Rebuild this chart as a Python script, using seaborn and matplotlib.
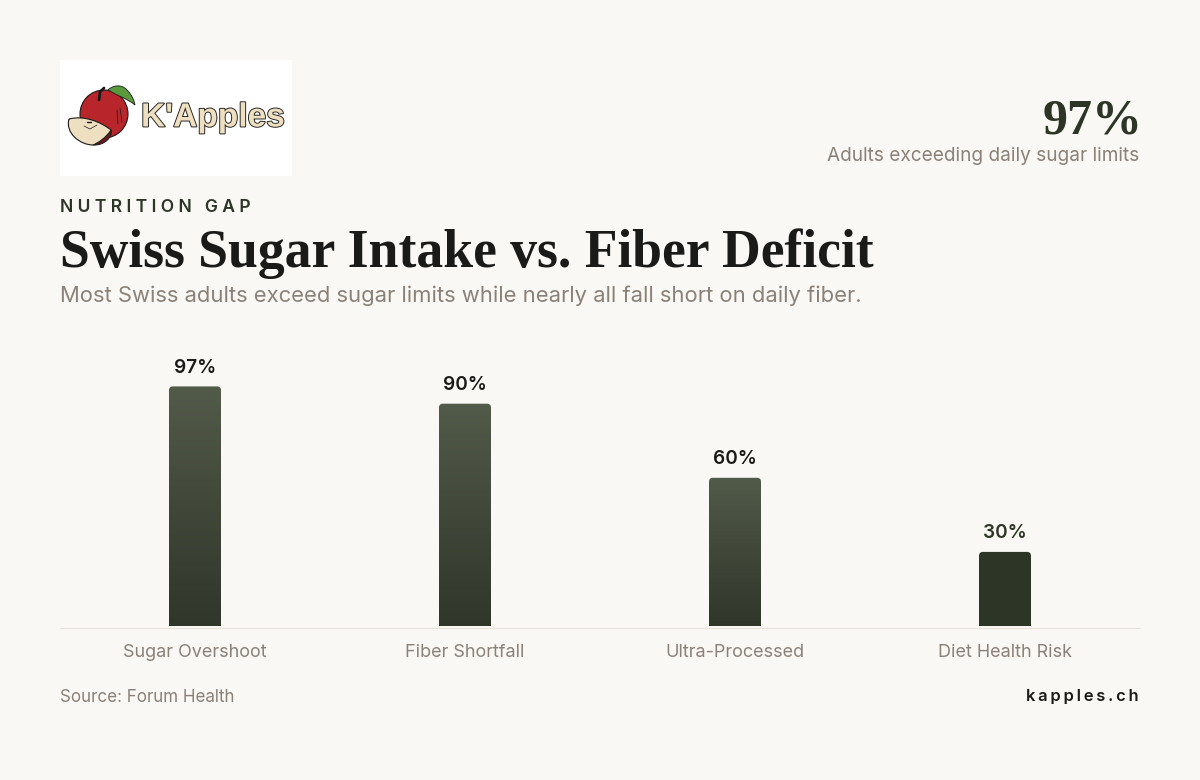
import matplotlib
matplotlib.use('Agg')
import matplotlib.pyplot as plt
import matplotlib.patheffects as pe
from matplotlib.colors import LinearSegmentedColormap
from matplotlib.patches import Circle, PathPatch, Rectangle
from matplotlib.path import Path
import numpy as np
import pandas as pd
import seaborn as sns

categories = ['Sugar Overshoot', 'Fiber Shortfall', 'Ultra-Processed', 'Diet Health Risk']
values = [97, 90, 60, 30]
value_labels = ['97%', '90%', '60%', '30%']
label_colors = ['#1a1a18', '#1a1a18', '#1a1a18', '#2d3626']

BG = '#faf8f4'
DARK = '#2d3626'
LIGHT = '#525a4a'
BOTTOM = '#30362a'
INK = '#1a1a18'
MUTED = '#8a8178'
RULE = '#e8e2da'
W, H = 1200, 780

sns.set_theme(style='white')
plt.rcParams['font.family'] = ['Inter', 'DejaVu Sans']


def px(size):
    return size * 0.72


def blob(points, **kw):
    # smooth closed shape for the logo, points are bezier triples after the start
    codes = [Path.MOVETO] + [Path.CURVE4] * (len(points) - 1)
    return PathPatch(Path(points, codes), **kw)


df = pd.DataFrame({'category': categories, 'value': values})

fig = plt.figure(figsize=(12, 7.8), dpi=100, facecolor=BG)

# chart area, 2.47px per percent
top_px, base_px = 340, 626
ax = fig.add_axes([60 / W, 1 - base_px / H, 1080 / W, (base_px - top_px) / H])
ax.set_facecolor('none')
sns.barplot(data=df, x='category', y='value', color=DARK, width=52 / 270, ax=ax)
ax.set_xlabel('')
ax.set_ylabel('')
ax.set_yticks([])
ax.tick_params(axis='x', length=0, pad=12, labelsize=px(18), labelcolor=MUTED)
sns.despine(ax=ax, left=True)
ax.spines['bottom'].set_position(('outward', 1.2))
ax.spines['bottom'].set_color(RULE)
ax.spines['bottom'].set_linewidth(0.8)
ax.spines['bottom'].set_capstyle('butt')

# swap flat bars for rounded ones with a vertical gradient
rx = 4 / 270
ry = 4 / 2.47
for bar, label, lab_col in zip(list(ax.patches), value_labels, label_colors):
    x0, w, h = bar.get_x(), bar.get_width(), bar.get_height()
    x1 = x0 + w
    bar.set_visible(False)
    verts = [(x0, 0), (x0, h - ry), (x0, h), (x0 + rx, h), (x1 - rx, h), (x1, h), (x1, h - ry), (x1, 0), (x0, 0)]
    codes = [Path.MOVETO, Path.LINETO, Path.CURVE3, Path.CURVE3, Path.LINETO, Path.CURVE3, Path.CURVE3, Path.LINETO, Path.CLOSEPOLY]
    clip = PathPatch(Path(verts, codes), transform=ax.transData, fc='none', ec='none')
    ax.add_patch(clip)
    # the shortest bar is flat in the reference
    if h > 40:
        cmap = LinearSegmentedColormap.from_list('bar', [BOTTOM, LIGHT])
    else:
        cmap = LinearSegmentedColormap.from_list('bar', [DARK, DARK])
    im = ax.imshow(np.linspace(1, 0, 256).reshape(-1, 1), cmap=cmap, vmin=0, vmax=1,
                   extent=(x0, x1, 0, h), aspect='auto', zorder=2)
    im.set_clip_path(clip)
    ax.annotate(label, (x0 + w / 2, h), xytext=(0, 7), textcoords='offset points', ha='center', va='bottom',
                fontsize=px(19), fontweight='semibold', color=lab_col)
ax.set_xlim(-0.5, 3.5)
ax.set_ylim(0, (base_px - top_px) / 2.47)

# overlay in pixel coordinates for the header, footer and logo
ov = fig.add_axes([0, 0, 1, 1], facecolor='none')
ov.set_xlim(0, W)
ov.set_ylim(H, 0)
ov.axis('off')

ov.text(60, 207, '\u2009\u200a'.join('NUTRITION GAP'), fontsize=px(17.5), fontweight='semibold', color=DARK, va='center', ha='left')
ov.text(60, 254, 'Swiss Sugar Intake vs. Fiber Deficit', family='Liberation Serif', fontsize=px(53.6), fontweight='bold',
        color=INK, va='center', ha='left')
ov.text(60, 296, 'Most Swiss adults exceed sugar limits while nearly all fall short on daily fiber.', fontsize=px(22),
        color=MUTED, va='center', ha='left')
ov.text(1143, 121, '97%', family='Liberation Serif', fontsize=px(50), fontweight='bold', color=DARK, va='center', ha='right')
ov.text(1139, 156, 'Adults exceeding daily sugar limits', fontsize=px(19), color=MUTED, va='center', ha='right')
ov.text(60, 697, 'Source: Forum Health', fontsize=px(17), color=MUTED, va='center', ha='left')
ov.text(1139, 696, '\u2009'.join('kapples.ch'), fontsize=px(16.5), fontweight='semibold', color=INK, va='center', ha='right')

# logo
OUTLINE = '#1a1a18'
CREAM = '#eddfc0'
ov.add_patch(Rectangle((60, 60), 232, 116, fc='white', ec='none'))
ov.add_patch(Circle((104, 114), 24, fc='#b8262c', ec=OUTLINE, lw=0.8))
ov.plot([120, 122], [108, 122], color=OUTLINE, lw=0.5)
ov.plot([117, 118], [110, 124], color=OUTLINE, lw=0.5)
ov.plot([99, 100, 104], [100, 92, 88], color=OUTLINE, lw=2)
ov.add_patch(blob([(108, 90), (113, 85), (122, 84), (127, 90), (132, 95), (134, 100), (135, 105),
                   (128, 99), (118, 96), (108, 90)], fc='#5a9a3c', ec=OUTLINE, lw=0.6))
ov.add_patch(blob([(111, 130), (113, 137), (104, 146), (93, 145), (96, 142), (105, 138), (111, 130)],
                  fc='#6b1a20', ec=OUTLINE, lw=0.7))
ov.add_patch(blob([(69, 119), (84, 115), (101, 122), (111, 130), (106, 138), (98, 143), (93, 145),
                   (80, 145), (65, 133), (69, 119)], fc=CREAM, ec=OUTLINE, lw=0.8))
ov.plot([84, 90, 97], [126, 129, 125], color=OUTLINE, lw=0.5)
ov.plot([87, 91], [122, 122], color=OUTLINE, lw=1)
ov.text(141, 118, "K'Apples", family='Liberation Sans', fontsize=px(33.5), fontweight='bold', color=CREAM, va='center', ha='left',
        path_effects=[pe.withStroke(linewidth=1.3, foreground=OUTLINE)])

fig.savefig('out.png', dpi=100, facecolor=BG)
